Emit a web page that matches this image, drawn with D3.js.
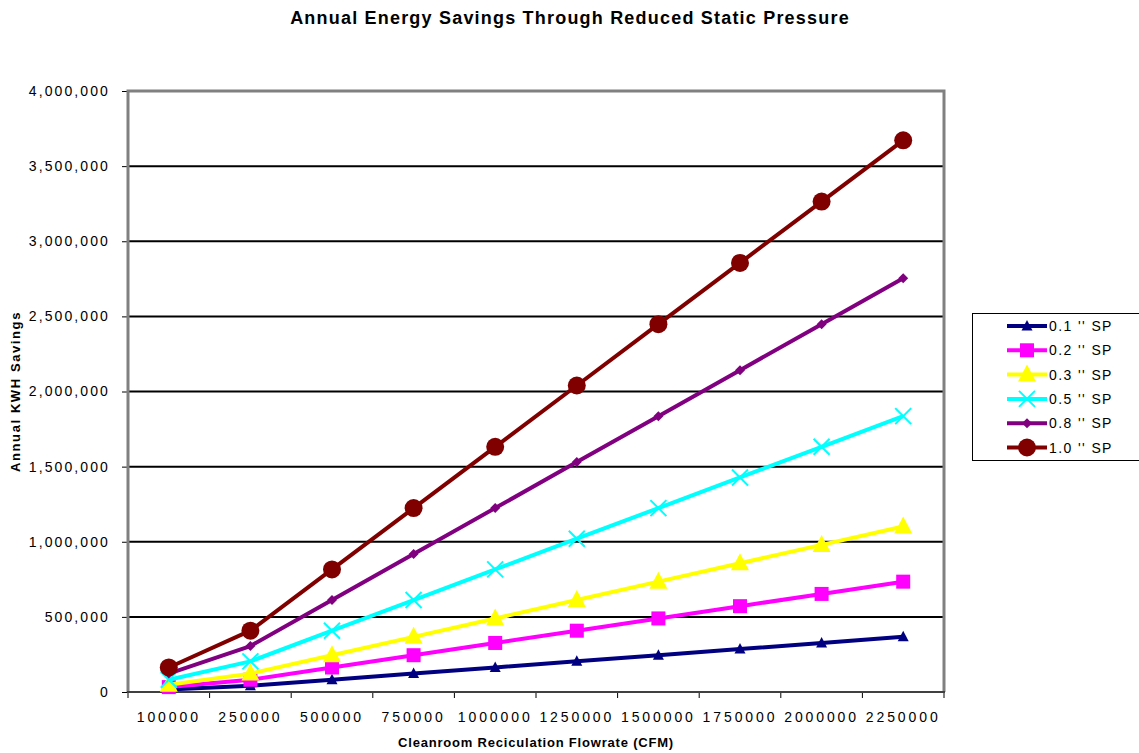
<!DOCTYPE html>
<html>
<head>
<meta charset="utf-8">
<script src="https://cdn.jsdelivr.net/npm/d3@7"></script>
<style>
  html, body { margin: 0; padding: 0; background: #fff; }
  svg { display: block; font-family: "Liberation Sans", Arial, sans-serif; }
</style>
</head>
<body>
<svg id="chart" width="1139" height="753"></svg>
<script>
// Airflow categories (CFM)
const flowrates = ["100000", "250000", "500000", "750000", "1000000",
                   "1250000", "1500000", "1750000", "2000000", "2250000"];

// Annual kWh savings per static-pressure reduction
const sp01 = [16320, 40800, 81600, 122400, 163200, 204000, 244800, 285600, 326400, 367200];
const sp02 = [32640, 81600, 163200, 244800, 326400, 408000, 489600, 571200, 652800, 734400];
const sp03 = [48960, 122400, 244800, 367200, 489600, 612000, 734400, 856800, 979200, 1101600];
const sp05 = [81600, 204000, 408000, 612000, 816000, 1020000, 1224000, 1428000, 1632000, 1836000];
const sp08 = [122400, 306000, 612000, 918000, 1224000, 1530000, 1836000, 2142000, 2448000, 2754000];
const sp10 = [163200, 408000, 816000, 1224000, 1632000, 2040000, 2448000, 2856000, 3264000, 3672000];

const seriesNames = ["0.1 '' SP", "0.2 '' SP", "0.3 '' SP", "0.5 '' SP", "0.8 '' SP", "1.0 '' SP"];
const yTicks = [0, 500000, 1000000, 1500000, 2000000, 2500000, 3000000, 3500000, 4000000];

const series = [
  { name: seriesNames[0], values: sp01, color: "#000080", marker: "triSmall" },
  { name: seriesNames[1], values: sp02, color: "#FF00FF", marker: "square" },
  { name: seriesNames[2], values: sp03, color: "#FFFF00", marker: "triangle" },
  { name: seriesNames[3], values: sp05, color: "#00FFFF", marker: "cross" },
  { name: seriesNames[4], values: sp08, color: "#800080", marker: "diamond" },
  { name: seriesNames[5], values: sp10, color: "#800000", marker: "circle" }
];

const svg = d3.select("#chart");
const plot = { left: 128, right: 944, top: 91, bottom: 692 };

const x = d3.scaleBand().domain(flowrates).range([plot.left, plot.right]).padding(0);
const y = d3.scaleLinear().domain([0, 4000000]).range([plot.bottom, plot.top]);
const cx = d => x(d) + x.bandwidth() / 2;

// Title
svg.append("text")
  .attr("x", 570).attr("y", 24)
  .attr("text-anchor", "middle")
  .attr("font-size", 18).attr("font-weight", "bold")
  .style("letter-spacing", "1.2px")
  .text("Annual Energy Savings Through Reduced Static Pressure");

// Horizontal gridlines
svg.append("g").selectAll("line")
  .data(yTicks.filter(t => t > 0 && t < 4000000))
  .join("line")
  .attr("x1", plot.left).attr("x2", plot.right)
  .attr("y1", d => y(d)).attr("y2", d => y(d))
  .attr("stroke", "#000").attr("stroke-width", 2);

// Y axis
const yAxis = svg.append("g")
  .attr("transform", `translate(${plot.left},0)`)
  .call(d3.axisLeft(y).tickValues(yTicks).tickSize(6).tickPadding(12)
        .tickFormat(d3.format(",")));
yAxis.select(".domain").remove();
yAxis.selectAll(".tick line").attr("stroke", "#000");
yAxis.selectAll(".tick text")
  .attr("font-size", 14).attr("fill", "#000")
  .attr("font-family", "Liberation Sans, Arial, sans-serif")
  .style("letter-spacing", "2.1px");

// X axis labels at category centres
const xAxis = svg.append("g")
  .attr("transform", `translate(0,${plot.bottom})`)
  .call(d3.axisBottom(x).tickSize(0).tickPadding(20));
xAxis.select(".domain").remove();
xAxis.selectAll(".tick text")
  .attr("font-size", 14).attr("fill", "#000")
  .attr("font-family", "Liberation Sans, Arial, sans-serif")
  .style("letter-spacing", "2.9px");

// X tick marks at category boundaries
const boundaries = flowrates.map(d => x(d)).concat([plot.right]);
svg.append("g").selectAll("line")
  .data(boundaries)
  .join("line")
  .attr("x1", d => d).attr("x2", d => d)
  .attr("y1", plot.bottom).attr("y2", plot.bottom + 6)
  .attr("stroke", "#000").attr("stroke-width", 1);

// Plot frame: grey on top/left/right, dark baseline
svg.append("path")
  .attr("d", `M${plot.left},${plot.bottom} V${plot.top} H${plot.right} V${plot.bottom}`)
  .attr("fill", "none").attr("stroke", "#808080").attr("stroke-width", 3);
svg.append("line")
  .attr("x1", plot.left - 1).attr("x2", plot.right + 1)
  .attr("y1", plot.bottom).attr("y2", plot.bottom)
  .attr("stroke", "#404040").attr("stroke-width", 2);

// Axis titles
svg.append("text")
  .attr("transform", `translate(20,${(plot.top + plot.bottom) / 2}) rotate(-90)`)
  .attr("text-anchor", "middle")
  .attr("font-size", 13).attr("font-weight", "bold")
  .style("letter-spacing", "1.6px")
  .text("Annual KWH Savings");
svg.append("text")
  .attr("x", (plot.left + plot.right) / 2).attr("y", 747)
  .attr("text-anchor", "middle")
  .attr("font-size", 13).attr("font-weight", "bold")
  .style("letter-spacing", "0.8px")
  .text("Cleanroom Reciculation Flowrate (CFM)");

// Marker drawing
function drawMarker(g, type, color) {
  switch (type) {
    case "circle":
      g.append("circle").attr("r", 9).attr("fill", color);
      break;
    case "square":
      g.append("rect").attr("x", -7).attr("y", -7).attr("width", 14).attr("height", 14).attr("fill", color);
      break;
    case "triangle":
      g.append("path").attr("d", "M0,-10 L9,7 L-9,7 Z").attr("fill", color);
      break;
    case "triSmall":
      g.append("path").attr("d", "M0,-6 L5.5,4.5 L-5.5,4.5 Z").attr("fill", color);
      break;
    case "diamond":
      g.append("path").attr("d", "M0,-5 L5,0 L0,5 L-5,0 Z").attr("fill", color);
      break;
    case "cross":
      g.append("path").attr("d", "M-8,-8 L8,8 M-8,8 L8,-8")
        .attr("stroke", color).attr("stroke-width", 2).attr("fill", "none");
      break;
  }
}

const line = d3.line().x(d => cx(d.cat)).y(d => y(d.v));

series.forEach(s => {
  const pts = flowrates.map((c, i) => ({ cat: c, v: s.values[i] }));
  const g = svg.append("g");
  g.append("path")
    .datum(pts)
    .attr("d", line)
    .attr("fill", "none")
    .attr("stroke", s.color)
    .attr("stroke-width", 4)
    .attr("stroke-linejoin", "round");
  pts.forEach(p => {
    const m = g.append("g").attr("transform", `translate(${cx(p.cat)},${y(p.v)})`);
    drawMarker(m, s.marker, s.color);
  });
});

// Legend
const legend = svg.append("g");
legend.append("rect")
  .attr("x", 972.5).attr("y", 313.5).attr("width", 180).attr("height", 147)
  .attr("fill", "#fff").attr("stroke", "#000").attr("stroke-width", 1);
series.forEach((s, i) => {
  const ly = 326 + i * 24.3;
  const g = legend.append("g");
  g.append("line")
    .attr("x1", 1007).attr("x2", 1047).attr("y1", ly).attr("y2", ly)
    .attr("stroke", s.color).attr("stroke-width", 4);
  const m = g.append("g").attr("transform", `translate(1027,${ly})`);
  drawMarker(m, s.marker, s.color);
  g.append("text")
    .attr("x", 1049).attr("y", ly + 5)
    .attr("font-size", 14)
    .style("letter-spacing", "1.4px")
    .text(s.name);
});
</script>
</body>
</html>
